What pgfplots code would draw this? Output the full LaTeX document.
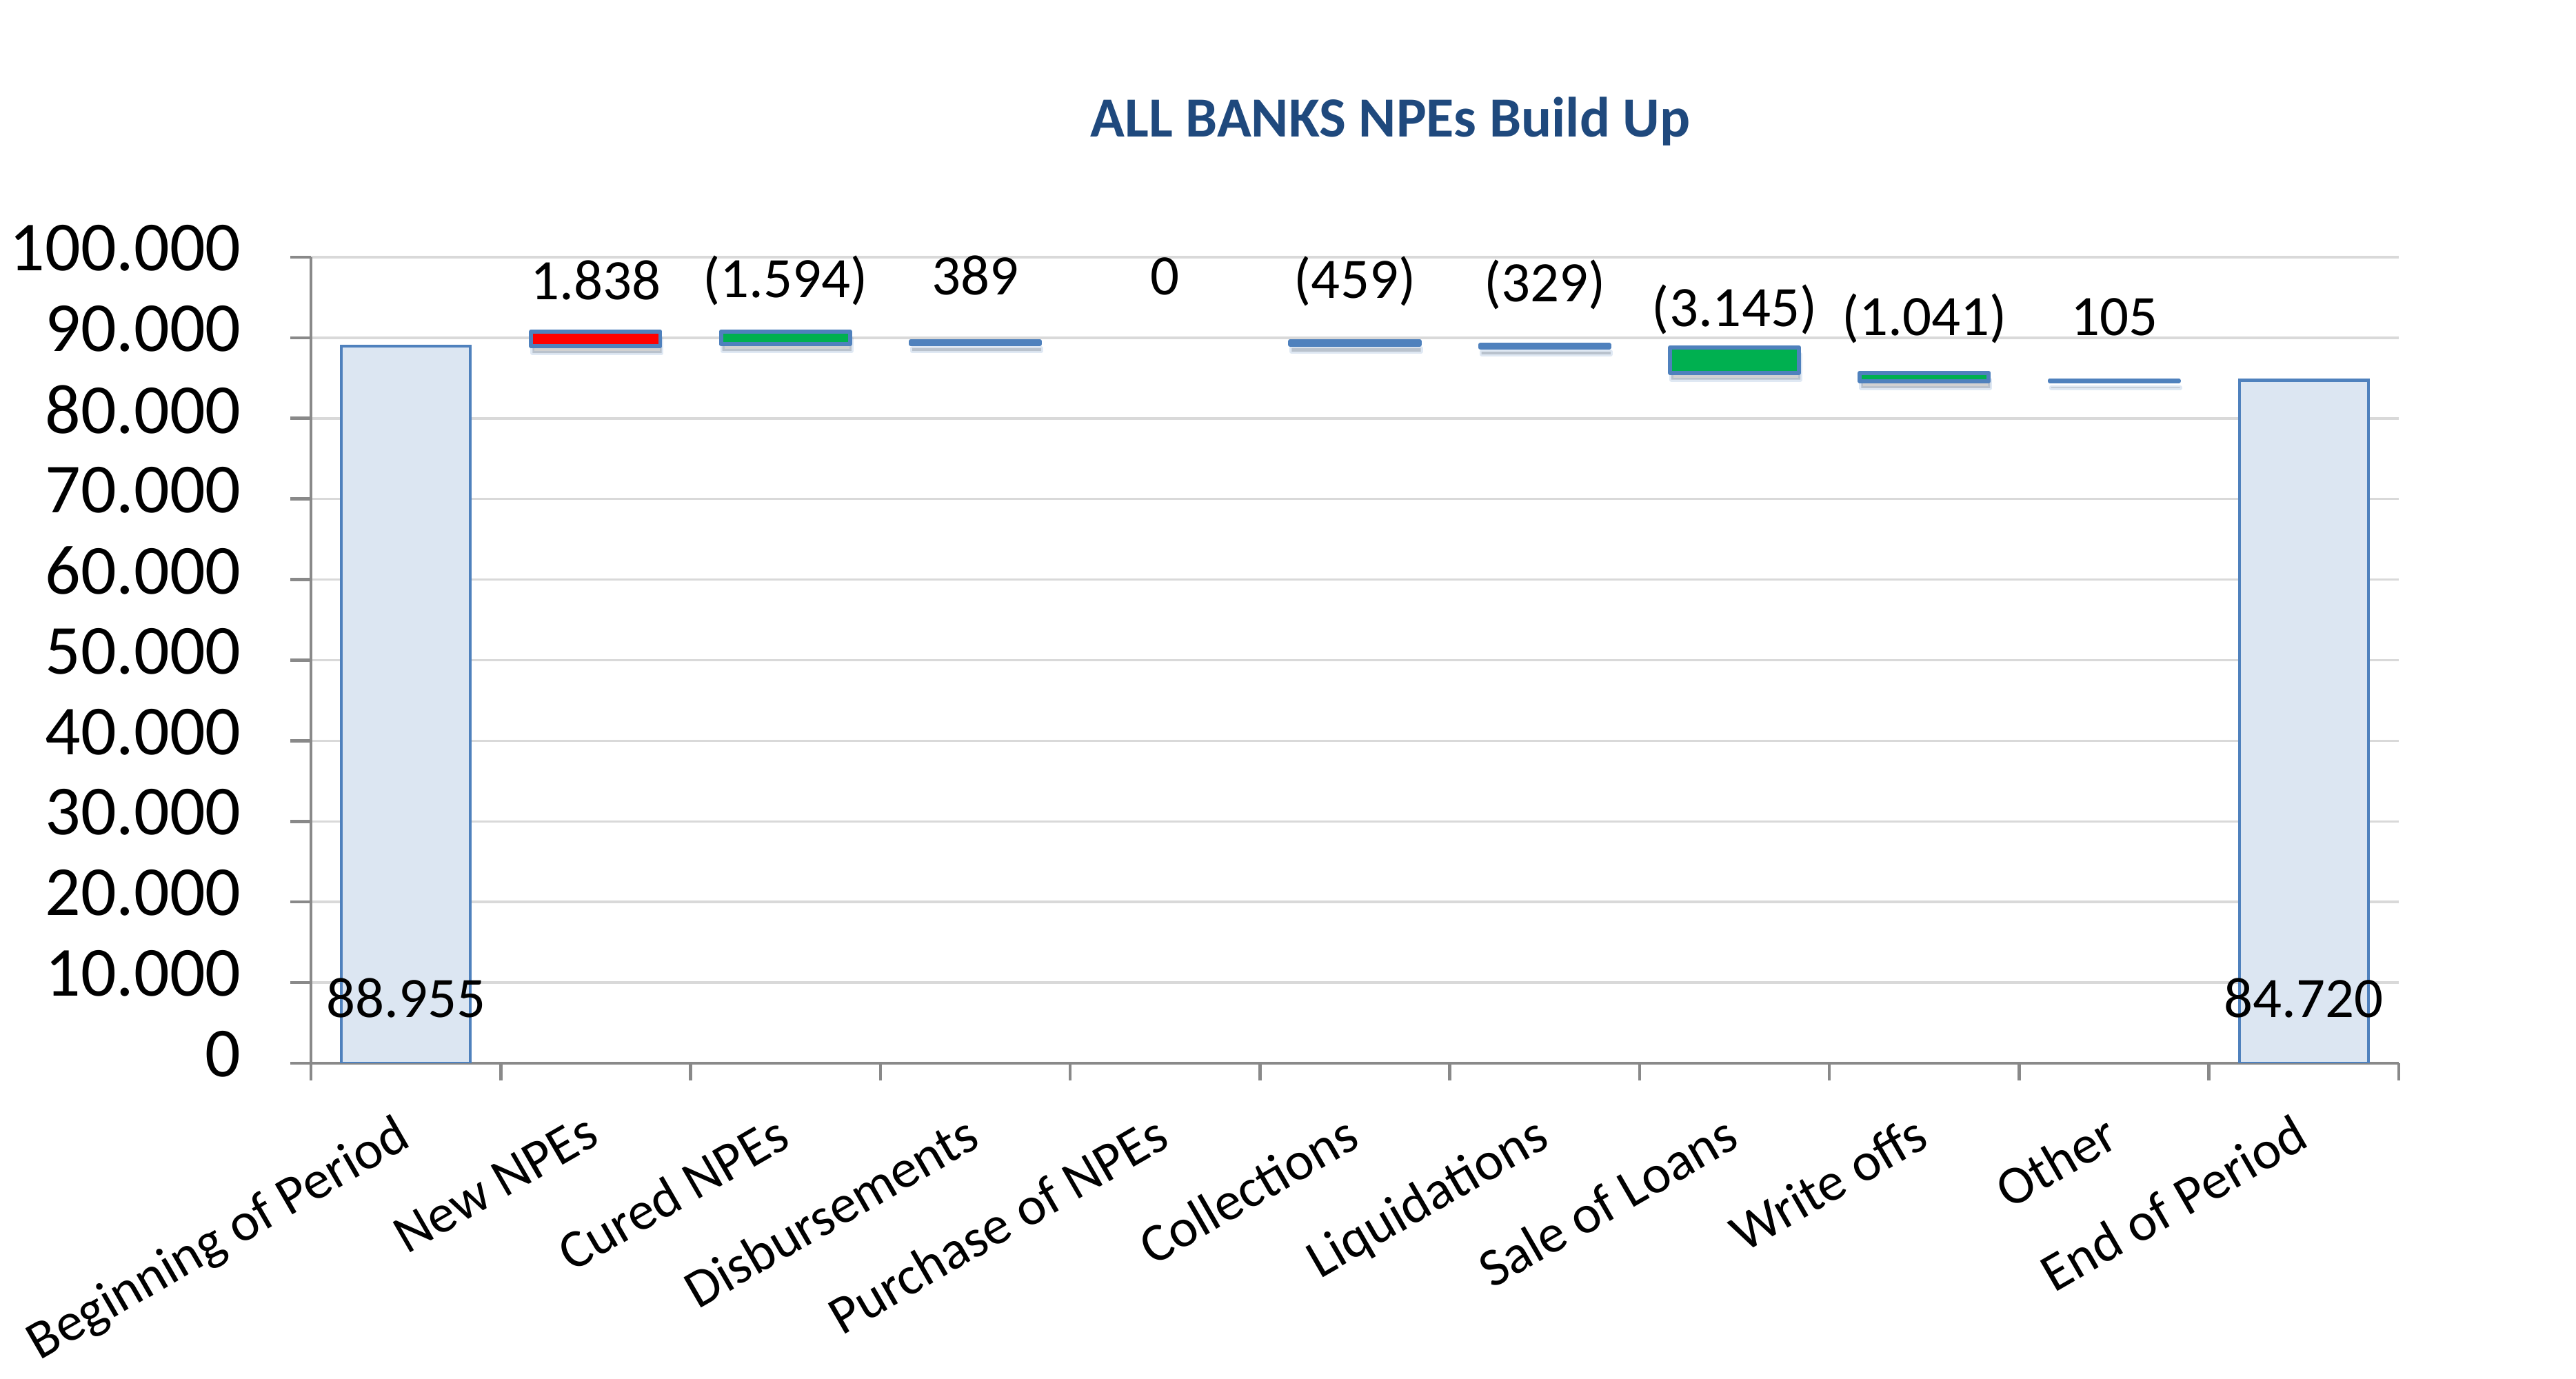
\documentclass[border=0pt]{standalone}
\usepackage{fontspec}
\setmainfont{Carlito}
\usepackage{pgfplots}
\usepackage{pgfplotstable}
\pgfplotsset{compat=1.18}
\usetikzlibrary{shadows}

\definecolor{barblue}{HTML}{4F81BD}
\definecolor{barfill}{HTML}{DCE6F2}
\definecolor{upred}{HTML}{FF0000}
\definecolor{downgreen}{HTML}{00B050}
\definecolor{titleblue}{HTML}{1F497D}
\definecolor{axgray}{HTML}{898989}
\definecolor{gridgray}{HTML}{D9D9D9}

% waterfall steps: invisible base, totals, increases, decreases
\pgfplotstableread{
x base total up down
0 0 88955 0 0
1 88955 0 1838 0
2 89199 0 0 1594
3 89199 0 389 0
5 89129 0 0 459
6 88800 0 0 329
7 85655 0 0 3145
8 84614 0 0 1041
9 84614 0 105 0
10 0 84720 0 0
}\steps

% data labels (baseline positions)
\pgfplotstableread{
x y label
0 5650 88.955
1 94700 1.838
2 94980 (1.594)
3 95300 389
4 95300 0
5 94870 (459)
6 94520 (329)
7 91360 (3.145)
8 90330 (1.041)
9 90270 105
10 5650 84.720
}\labels

\pgfplotsset{
  frame/.style={scale only axis, width=15.14cm, height=5.845cm,
    xmin=-0.5, xmax=10.5, ymin=0, ymax=100000},
}

\begin{document}
\begin{tikzpicture}
\path[use as bounding box] (-2.255,-2.29) rectangle (16.425,7.71);
\begin{axis}[
    frame,
    ybar stacked, bar width=0.68,
    axis x line=bottom, axis y line=left,
    axis line style={-, draw=axgray, line width=0.65pt},
    tick style={axgray, line width=0.65pt},
    tick align=outside, major tick length=0.15cm, minor tick length=0.125cm,
    xtick={0,...,10},
    minor xtick={-0.5,0.5,...,10.5},
    every major x tick/.append style={draw=none},
    xticklabels={Beginning of Period, New NPEs, Cured NPEs, Disbursements, Purchase of NPEs, Collections, Liquidations, Sale of Loans, Write offs, Other, End of Period},
    ytick={0,10000,...,100000},
    scaled y ticks=false,
    yticklabel style={/pgf/number format/fixed, /pgf/number format/1000 sep={.}, /pgf/number format/assume math mode=true},
    ymajorgrids, grid style={gridgray, line width=0.5pt},
    xticklabel style={font=\fontsize{11.2}{13}\selectfont, inner sep=0pt, yshift=-0.2cm, xshift=-0.085cm, rotate=30, anchor=north east},
    yticklabel style={font=\fontsize{14.5}{17}\selectfont, inner sep=0pt, xshift=-0.35cm, yshift=0.065cm, anchor=east},
    title={ALL BANKS NPEs Build Up},
    title style={at={(0.517,1.113)}, anchor=base, font=\fontsize{11.7}{14}\selectfont\bfseries, text=titleblue},
]
\addplot[draw=none, fill=none] table[x=x, y=base] {\steps};
\addplot[draw=barblue, fill=barfill, line width=0.6pt] table[x=x, y=total] {\steps};
\addplot[draw=barblue, fill=upred, line width=0.85pt, line join=round,
    drop shadow={shadow xshift=0.01cm, shadow yshift=-0.05cm, opacity=0.18, fill=black}] table[x=x, y=up] {\steps};
\addplot[draw=barblue, fill=downgreen, line width=0.85pt, line join=round,
    drop shadow={shadow xshift=0.01cm, shadow yshift=-0.05cm, opacity=0.18, fill=black}] table[x=x, y=down] {\steps};
\end{axis}
% data labels on an invisible twin axis
\begin{axis}[frame, hide axis,
    nodes near coords style={font=\fontsize{11.8}{14}\selectfont, anchor=base, inner sep=0pt, text=black}]
\addplot[draw=none, mark=none, nodes near coords, point meta=explicit symbolic]
    table[x=x, y=y, meta=label] {\labels};
\end{axis}
\end{tikzpicture}
\end{document}
